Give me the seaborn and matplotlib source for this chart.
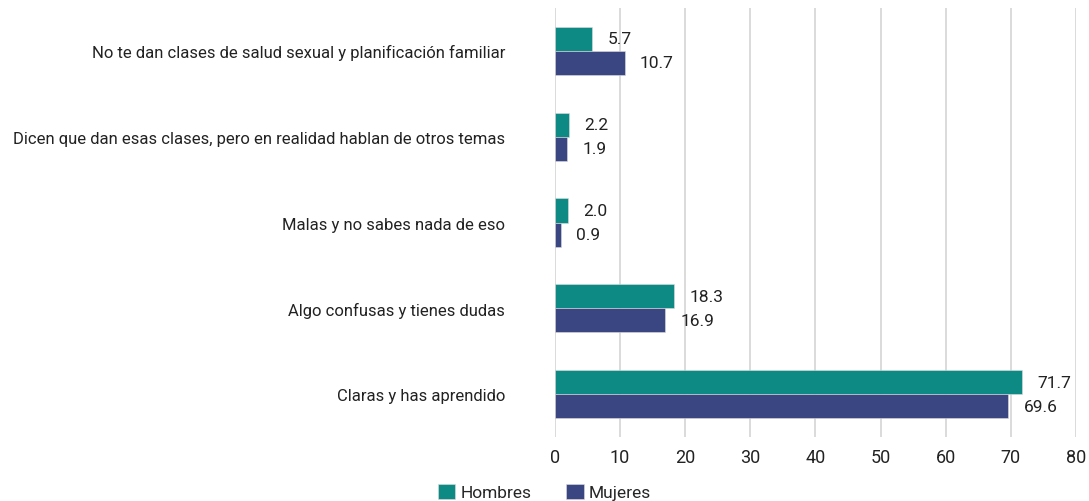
import matplotlib
matplotlib.use("Agg")
import matplotlib.pyplot as plt
import seaborn as sns
import pandas as pd

# ── Data ──────────────────────────────────────────────────────────────────────
categories = [
    "No te dan clases de salud sexual y planificación familiar",
    "Dicen que dan esas clases, pero en realidad hablan de otros temas",
    "Malas y no sabes nada de eso",
    "Algo confusas y tienes dudas",
    "Claras y has aprendido",
]
hombres = [5.7, 2.2, 2.0, 18.3, 71.7]
mujeres = [10.7, 1.9, 0.9, 16.9, 69.6]
series_names = ["Hombres", "Mujeres"]
x_ticks = [0, 10, 20, 30, 40, 50, 60, 70, 80]

colors = ["#0e8a84", "#3a4682"]

df = pd.DataFrame({
    "categoria": categories * 2,
    "valor": hombres + mujeres,
    "sexo": [series_names[0]] * len(categories) + [series_names[1]] * len(categories),
})

# ── Plot ──────────────────────────────────────────────────────────────────────
sns.set_theme(style="white")
plt.rcParams["font.family"] = ["Roboto", "DejaVu Sans"]

fig = plt.figure(figsize=(10.89, 5.02), dpi=100)
ax = fig.add_axes([0.5096, 0.1275, 0.4784, 0.8545])

sns.barplot(
    data=df, y="categoria", x="valor", hue="sexo",
    order=categories, hue_order=series_names,
    palette=colors, saturation=1, orient="h", width=0.56, ax=ax,
    edgecolor="#dddddd", linewidth=0.4, legend=True,
)

for cont in ax.containers:
    ax.bar_label(cont, fmt="%.1f", padding=11, fontsize=12.5, color="#222222")

ax.set_xlim(0, 80)
ax.set_xticks(x_ticks)
ax.xaxis.grid(True, color="#d4d4d4", linewidth=1.2)
ax.set_axisbelow(True)
for s in ax.spines.values():
    s.set_visible(False)
ax.set_xlabel("")
ax.set_ylabel("")
ax.tick_params(axis="x", labelsize=13, colors="#222222", length=0, pad=8)
ax.tick_params(axis="y", labelsize=12, colors="#222222", length=0, pad=36)

handles, labels = ax.get_legend_handles_labels()
ax.legend_.remove()
fig.legend(
    handles, labels, loc="center", bbox_to_anchor=(0.5, 0.018),
    ncol=2, frameon=False, fontsize=12.5, handlelength=1.0, handleheight=1.0,
    handletextpad=0.3, columnspacing=2.0,
)

fig.savefig("out.png", dpi=100)
plt.close(fig)
